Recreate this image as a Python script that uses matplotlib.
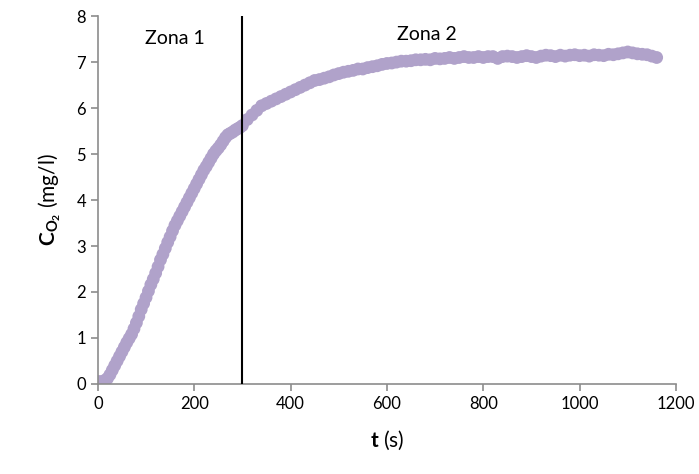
import matplotlib
matplotlib.use("Agg")
import matplotlib.pyplot as plt

plt.rcParams['font.family'] = ['Lato', 'DejaVu Sans']
plt.rcParams['mathtext.fontset'] = 'custom'
plt.rcParams['mathtext.rm'] = 'Lato'
plt.rcParams['mathtext.it'] = 'Lato:italic'
plt.rcParams['mathtext.bf'] = 'Lato:bold'

# Zone 1 readings (every 5 s, 0-300 s)
t_zone1 = list(range(0, 305, 5))
c_zone1 = [0.05, 0.05, 0.05, 0.08, 0.12, 0.20, 0.30, 0.40, 0.50, 0.60,
           0.70, 0.80, 0.90, 0.99, 1.08, 1.20, 1.33, 1.47, 1.62, 1.75,
           1.88, 2.02, 2.16, 2.28, 2.41, 2.55, 2.70, 2.82, 2.95, 3.08,
           3.20, 3.33, 3.45, 3.55, 3.65, 3.75, 3.85, 3.95, 4.05, 4.15,
           4.25, 4.35, 4.45, 4.55, 4.65, 4.73, 4.82, 4.91, 5.00, 5.07,
           5.13, 5.20, 5.28, 5.36, 5.42, 5.45, 5.48, 5.52, 5.55, 5.58,
           5.62]
# Zone 2 readings (every 10 s, 310-1160 s)
t_zone2 = list(range(310, 1170, 10))
c_zone2 = [5.75, 5.85, 5.95, 6.05, 6.10, 6.15, 6.20, 6.25, 6.30,
           6.35, 6.40, 6.45, 6.50, 6.55, 6.60, 6.62, 6.65, 6.68, 6.72,
           6.75, 6.78, 6.80, 6.82, 6.85, 6.85, 6.88, 6.90, 6.92, 6.95,
           6.97, 6.98, 7.00, 7.02, 7.02, 7.03, 7.05, 7.05, 7.06, 7.05,
           7.08, 7.07, 7.08, 7.10, 7.08, 7.10, 7.12, 7.10, 7.10, 7.12,
           7.10, 7.12, 7.12, 7.08, 7.12, 7.13, 7.12, 7.10, 7.12, 7.14,
           7.12, 7.10, 7.13, 7.15, 7.14, 7.12, 7.15, 7.13, 7.15, 7.16,
           7.14, 7.15, 7.13, 7.16, 7.15, 7.14, 7.17, 7.16, 7.18, 7.20,
           7.22, 7.20, 7.18, 7.17, 7.16, 7.13, 7.10]

zone_boundary = 300
zone_labels = ["Zona 1", "Zona 2"]
xticks = [0, 200, 400, 600, 800, 1000, 1200]
yticks = [0, 1, 2, 3, 4, 5, 6, 7, 8]

fig = plt.figure(figsize=(6.99, 4.74), dpi=100)
ax = fig.add_axes([0.140, 0.190, 0.827, 0.776])

marker_color = '#b0a2ca'
ax.scatter(t_zone1, c_zone1, s=85, color=marker_color, edgecolors='none', zorder=2)
ax.scatter(t_zone2, c_zone2, s=85, color=marker_color, edgecolors='none', zorder=2)
ax.axvline(zone_boundary, color='black', linewidth=1.5, zorder=3)

ax.text(160, 7.52, zone_labels[0], fontsize=14, ha='center', va='center')
ax.text(683, 7.61, zone_labels[1], fontsize=14, ha='center', va='center')

ax.set_xlim(0, 1200)
ax.set_ylim(0, 8)
ax.set_xticks(xticks)
ax.set_yticks(yticks)

for side in ['top', 'right']:
    ax.spines[side].set_visible(False)
for side in ['left', 'bottom']:
    ax.spines[side].set_color('#8c8c8c')
    ax.spines[side].set_linewidth(1.2)
ax.tick_params(axis='both', colors='#8c8c8c', labelcolor='black',
               labelsize=12, length=5, width=1.2, direction='out')

ax.set_xlabel(r'$\mathbf{t}$ (s)', fontsize=15, labelpad=12)
ax.set_ylabel(r'$\mathbf{C}_{\mathbf{O_2}}$ (mg/l)', fontsize=15, labelpad=10)

fig.savefig('out.png', dpi=100)
